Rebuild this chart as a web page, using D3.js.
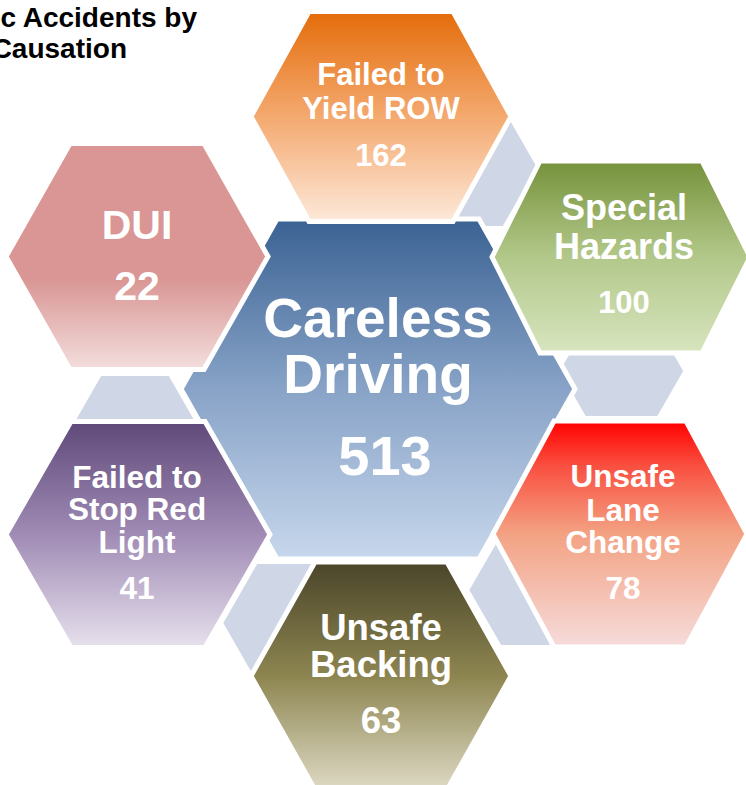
<!DOCTYPE html>
<html>
<head>
<meta charset="utf-8">
<script src="https://cdn.jsdelivr.net/npm/d3@7"></script>
<style>
  html, body { margin: 0; padding: 0; background: #ffffff; overflow: hidden; }
  svg { display: block; }
  text { font-family: "Liberation Sans", Arial, Helvetica, sans-serif; font-weight: bold; }
</style>
</head>
<body>
<svg id="chart" width="746" height="785"></svg>
<script>
// ---------- data ----------
const categories = ["Careless Driving", "Failed to Yield ROW", "Special Hazards", "Unsafe Lane Change",
                    "Unsafe Backing", "Failed to Stop Red Light", "DUI"];
const counts = [513, 162, 100, 78, 63, 41, 22];
const labelLines = [["Careless", "Driving"], ["Failed to", "Yield ROW"], ["Special", "Hazards"],
                    ["Unsafe", "Lane", "Change"], ["Unsafe", "Backing"], ["Failed to", "Stop Red", "Light"], ["DUI"]];
const titleLines = ["c Accidents by", "Causation"];

// ---------- layout (geometry & style, separate from data) ----------
// hexagon: cx, cy, w (half width to point), t (half top edge), h (half height)
const hexLayout = [
  {cx: 378, cy: 389, w: 197, t: 101, h: 170},
  {cx: 381, cy: 116.5, w: 130, t: 72, h: 105},
  {cx: 621, cy: 257, w: 129, t: 81, h: 96},
  {cx: 620, cy: 534, w: 127, t: 66, h: 113},
  {cx: 381, cy: 676, w: 130, t: 66, h: 114},
  {cx: 138, cy: 534.5, w: 132, t: 67, h: 113},
  {cx: 137, cy: 256.5, w: 131, t: 67, h: 113}
];
const connectorLayout = [
  {cx: 469, cy: 167, w: 70, t: 35, h: 61},
  {cx: 135, cy: 435, w: 70, t: 35, h: 61},
  {cx: 621.5, cy: 371, w: 64, t: 37, h: 47},
  {cx: 291, cy: 623, w: 70, t: 35, h: 61},
  {cx: 533, cy: 590, w: 66, t: 33, h: 57}
];
const textLayout = [
  {x: 378, size: 55, lines: [337, 393], numX: 385, num: 475, numSize: 56},
  {x: 381, size: 31, lines: [85, 119], numX: 381, num: 166, numSize: 31},
  {x: 624, size: 36, lines: [220, 259], numX: 624, num: 313, numSize: 31},
  {x: 623, size: 31.5, lines: [487, 521, 553], numX: 623, num: 599, numSize: 31.5},
  {x: 381, size: 36.5, lines: [640, 677], numX: 381, num: 733, numSize: 36.5},
  {x: 137, size: 31.5, lines: [488, 520, 553], numX: 137, num: 599, numSize: 31.5},
  {x: 137, size: 41, lines: [239], numX: 137, num: 300, numSize: 41}
];
const gradients = [
  [[0, "#3A6293"], [0.5, "#88A3C7"], [1, "#C7D7EC"]],
  [[0, "#E46C0A"], [0.5, "#F4A96F"], [1, "#FDE9DA"]],
  [[0, "#76923B"], [0.5, "#B2C88A"], [1, "#D8E5BF"]],
  [[0, "#FF0000"], [0.2, "#F95040"], [0.5, "#F3A283"], [1, "#F6DCDC"]],
  [[0, "#4A452A"], [0.5, "#8D8550"], [1, "#DEDAC5"]],
  [[0, "#5F497A"], [0.5, "#A08BB5"], [1, "#E7E1ED"]],
  [[0, "#D99694"], [0.6, "#D99694"], [1, "#F3DEDD"]]
];
const connectorColor = "#CFD7E6";

// ---------- drawing ----------
const svg = d3.select("#chart");
const defs = svg.append("defs");

gradients.forEach((stops, i) => {
  const g = defs.append("linearGradient")
    .attr("id", "grad" + i)
    .attr("x1", 0).attr("y1", 0).attr("x2", 0).attr("y2", 1);
  g.selectAll("stop").data(stops).join("stop")
    .attr("offset", d => d[0])
    .attr("stop-color", d => d[1]);
});

const line = d3.line().curve(d3.curveLinearClosed);
function hexPoints(d) {
  return [
    [d.cx - d.w, d.cy], [d.cx - d.t, d.cy - d.h], [d.cx + d.t, d.cy - d.h],
    [d.cx + d.w, d.cy], [d.cx + d.t, d.cy + d.h], [d.cx - d.t, d.cy + d.h]
  ];
}

// connectors (behind)
svg.append("g").selectAll("path").data(connectorLayout).join("path")
  .attr("d", d => line(hexPoints(d)))
  .attr("fill", connectorColor)
  .attr("stroke", "#ffffff")
  .attr("stroke-width", 4)
  .attr("stroke-linejoin", "miter");

// main hexagons: center first, then outer ones on top
const nodes = categories.map((c, i) => ({name: c, value: counts[i], lines: labelLines[i], geo: hexLayout[i], txt: textLayout[i], idx: i}));

const hexG = svg.append("g");
hexG.selectAll("path").data(nodes).join("path")
  .attr("d", d => line(hexPoints(d.geo)))
  .attr("fill", d => "url(#grad" + d.idx + ")")
  .attr("stroke", "#ffffff")
  .attr("stroke-width", 5)
  .attr("stroke-linejoin", "miter");

const textG = svg.append("g");
nodes.forEach(d => {
  const g = textG.append("g");
  g.selectAll("text.lbl").data(d.lines).join("text")
    .attr("class", "lbl")
    .attr("x", d.txt.x)
    .attr("y", (l, j) => d.txt.lines[j])
    .attr("text-anchor", "middle")
    .attr("font-size", d.txt.size)
    .attr("fill", "#ffffff")
    .text(l => l);
  g.append("text")
    .attr("x", d.txt.numX)
    .attr("y", d.txt.num)
    .attr("text-anchor", "middle")
    .attr("font-size", d.txt.numSize)
    .attr("fill", "#ffffff")
    .text(d3.format("d")(d.value));
});

// title (partially cut at left edge, as in the reference)
svg.append("g").selectAll("text").data(titleLines).join("text")
  .attr("x", (d, i) => i === 0 ? 197 : 127)
  .attr("y", (d, i) => i === 0 ? 27 : 58)
  .attr("text-anchor", "end")
  .attr("font-size", 28)
  .attr("fill", "#000000")
  .text(d => d);
</script>
</body>
</html>
